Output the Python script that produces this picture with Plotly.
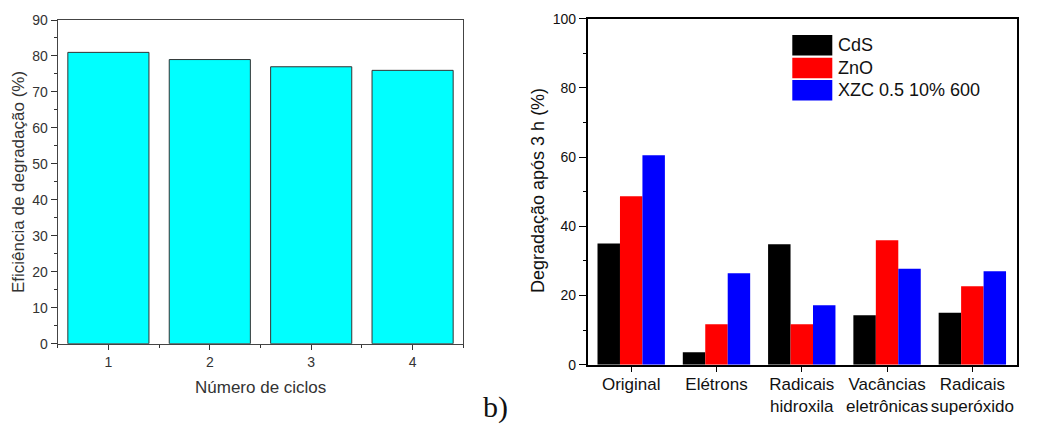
import plotly.graph_objects as go

W, H = 1039, 424
OFF = 8  # page body margin shifts the figure by this many pixels

# left panel: degradation efficiency per cycle
ciclos = [1, 2, 3, 4]
eficiencia = [81, 79, 77, 76]

# right panel: degradation after 3 h with scavengers
categorias = ["Original", "Elétrons", "Radicais<br>hidroxila",
              "Vacâncias<br>eletrônicas", "Radicais<br>superóxido"]
series_nomes = ["CdS", "ZnO", "XZC 0.5 10% 600"]
series_cores = ["#000000", "#ff0000", "#0000ff"]
cds = [35.0, 3.6, 34.8, 14.3, 15.0]
zno = [48.7, 11.7, 11.7, 36.0, 22.7]
xzc = [60.5, 26.4, 17.2, 27.7, 27.0]


def px(x):
    return (x - OFF) / W


def py(y):
    return (H - (y - OFF)) / H


fig = go.Figure()

fig.add_trace(go.Bar(x=ciclos, y=eficiencia, width=0.8,
                     marker=dict(color="#00ffff", line=dict(color="#333333", width=1)),
                     xaxis="x", yaxis="y", showlegend=False))

for nome, cor, vals in zip(series_nomes, series_cores, [cds, zno, xzc]):
    fig.add_trace(go.Bar(x=categorias, y=vals, name=nome,
                         marker=dict(color=cor, line=dict(width=0)),
                         xaxis="x2", yaxis="y2", showlegend=False))

font = "Liberation Sans, Arial, sans-serif"

fig.update_layout(
    width=W, height=H,
    margin=dict(l=0, r=0, t=0, b=0, autoexpand=False),
    paper_bgcolor="white", plot_bgcolor="white",
    font=dict(family=font, color="#222222"),
    barmode="group", bargap=0.21, bargroupgap=0,
    xaxis=dict(domain=[px(57.7), px(463.3)], anchor="y", range=[0.5, 4.5],
               tickvals=ciclos, ticks="outside", ticklen=5, tickwidth=1,
               tickcolor="#333333", linecolor="#444444", linewidth=1.2,
               mirror=True, showgrid=False, zeroline=False, automargin=False,
               tickangle=0, tickfont=dict(size=14, color="#333333"),
               minor=dict(dtick=0.5, tick0=0.5, ticks="outside", ticklen=3,
                          tickcolor="#333333", showgrid=False)),
    yaxis=dict(domain=[py(343.7), py(20)], anchor="x", range=[0, 90],
               dtick=10, ticks="outside", ticklen=6, tickwidth=1,
               tickcolor="#333333", linecolor="#444444", linewidth=1.2,
               mirror=True, showgrid=False, zeroline=False, automargin=False,
               tickfont=dict(size=14, color="#333333"),
               minor=dict(dtick=5, ticks="outside", ticklen=3,
                          tickcolor="#333333", showgrid=False)),
    xaxis2=dict(domain=[px(587.7), px(1016.7)], anchor="y2", range=[-0.51, 4.52],
                ticks="outside", ticklen=6, tickwidth=1, tickcolor="black",
                linecolor="black", linewidth=1.5, mirror=True, showgrid=False,
                zeroline=False, automargin=False, tickangle=0,
                ticklabelstandoff=-3,
                tickfont=dict(size=17, color="#111111")),
    yaxis2=dict(domain=[py(364.7), py(18.7)], anchor="x2", range=[0, 100],
                dtick=20, ticks="outside", ticklen=7, tickwidth=1, tickcolor="black",
                linecolor="black", linewidth=1.5, mirror=True, showgrid=False,
                zeroline=False, automargin=False,
                tickfont=dict(size=14, color="#111111"),
                minor=dict(dtick=10, ticks="outside", ticklen=3,
                           tickcolor="black", showgrid=False)),
)


def texto(t, x, y, size, color="#111111", angle=0, xanchor="center", family=None):
    f = dict(size=size, color=color)
    if family:
        f["family"] = family
    fig.add_annotation(text=t, x=px(x), y=py(y), xref="paper", yref="paper",
                       textangle=angle, showarrow=False, xanchor=xanchor,
                       yanchor="middle", font=f)


# axis titles
texto("Eficiência de degradação (%)", 19, 182, 17, "#333333", angle=-90)
texto("Número de ciclos", 260, 387, 17, "#333333")
texto("Degradação após 3 h (%)", 538, 191, 18, angle=-90)
texto("b)", 495, 407, 30, family="Liberation Serif, Times New Roman, serif")

# legend drawn as large swatches like the original
box_tops = [35, 57.7, 80]
for nome, cor, top in zip(series_nomes, series_cores, box_tops):
    fig.add_shape(type="rect", xref="paper", yref="paper",
                  x0=px(792.3), x1=px(832.3), y0=py(top + 20.5), y1=py(top),
                  fillcolor=cor, line=dict(width=0))
    texto(nome, 836, top + 10.5, 18, xanchor="left")

fig.write_html("out.html")
